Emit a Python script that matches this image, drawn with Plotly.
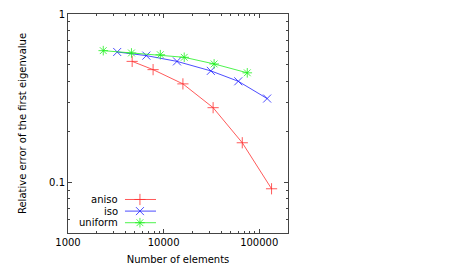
import plotly.graph_objects as go

# ---- data ----
aniso_x = [4690, 7760, 15920, 32950, 66500, 134600]
aniso_y = [0.524, 0.468, 0.385, 0.278, 0.172, 0.0916]
iso_x = [3270, 6600, 13800, 31190, 60400, 121000]
iso_y = [0.596, 0.567, 0.524, 0.460, 0.399, 0.315]
uniform_x = [2337, 4610, 9240, 16430, 33740, 75000]
uniform_y = [0.607, 0.588, 0.574, 0.554, 0.506, 0.448]

series_names = ["aniso", "iso", "uniform"]
x_tick_vals = [1000, 10000, 100000]
x_tick_text = ["1000", "10000", "100000"]
y_tick_vals = [0.1, 1]
y_tick_text = ["0.1", "1"]

colors = ["#ff3030", "#2020ff", "#20f020"]
symbols = ["cross-thin-open", "x-thin-open", "asterisk-open"]

FONT = "DejaVu Sans"
fig = go.Figure()

for xs, ys, name, c, s in zip([aniso_x, iso_x, uniform_x], [aniso_y, iso_y, uniform_y],
                              series_names, colors, symbols):
    fig.add_trace(go.Scatter(x=xs, y=ys, mode="lines+markers", name=name,
                             line=dict(color=c, width=0.8),
                             marker=dict(symbol=s, size=8, color=c,
                                         line=dict(color=c, width=0.8)),
                             showlegend=False))

# custom gnuplot-style legend (text left, sample right) on overlay axes
leg_y = [0.153, 0.100, 0.047]
for name, c, s, ly in zip(series_names, colors, symbols, leg_y):
    fig.add_trace(go.Scatter(x=[0.259, 0.327, 0.40], y=[ly, ly, ly], mode="lines",
                             line=dict(color=c, width=0.8), xaxis="x2", yaxis="y2",
                             showlegend=False, hoverinfo="skip"))
    fig.add_trace(go.Scatter(x=[0.327], y=[ly], mode="markers", xaxis="x2", yaxis="y2",
                             marker=dict(symbol=s, size=8, color=c, line=dict(color=c, width=0.8)),
                             showlegend=False, hoverinfo="skip"))
    fig.add_annotation(x=0.235, y=ly, xref="x2", yref="y2", text=name, showarrow=False,
                       xanchor="right", yanchor="middle",
                       font=dict(family=FONT, size=10, color="black"))

minor_x = [m * 10 ** e for e in (3, 4, 5) for m in range(2, 10) if m * 10 ** e <= 200000]
minor_y = [m * 10 ** e for e in (-2, -1) for m in range(1, 10) if 0.05 <= m * 10 ** e < 1 and m != 1]

axis_common = dict(showline=True, linecolor="#444", linewidth=1, mirror="allticks",
                   ticks="inside", ticklen=4, tickcolor="#444", showgrid=False,
                   zeroline=False, automargin=False, ticklabeloverflow="allow",
                   tickfont=dict(family=FONT, size=10, color="black"))

fig.update_layout(
    width=442, height=262,
    margin=dict(l=60, r=162, t=6, b=37),
    paper_bgcolor="white", plot_bgcolor="white",
    font=dict(family=FONT, size=10, color="black"),
    xaxis=dict(type="log", range=[3, 5.301], tickvals=x_tick_vals, ticktext=x_tick_text,
               minor=dict(tickvals=minor_x, ticks="inside", ticklen=2, tickcolor="#444"),
               title=dict(text="Number of elements", standoff=8,
                          font=dict(family=FONT, size=10)),
               **axis_common),
    yaxis=dict(type="log", range=[-1.301, 0.001], tickvals=y_tick_vals, ticktext=y_tick_text,
               minor=dict(tickvals=minor_y, ticks="inside", ticklen=2, tickcolor="#444"),
               title=dict(text="Relative error of the first eigenvalue", standoff=20,
                          font=dict(family=FONT, size=10)),
               **axis_common),
    xaxis2=dict(overlaying="x", range=[0, 1], visible=False, fixedrange=True),
    yaxis2=dict(overlaying="y", range=[0, 1], visible=False, fixedrange=True),
)

fig.write_html("out.html")
